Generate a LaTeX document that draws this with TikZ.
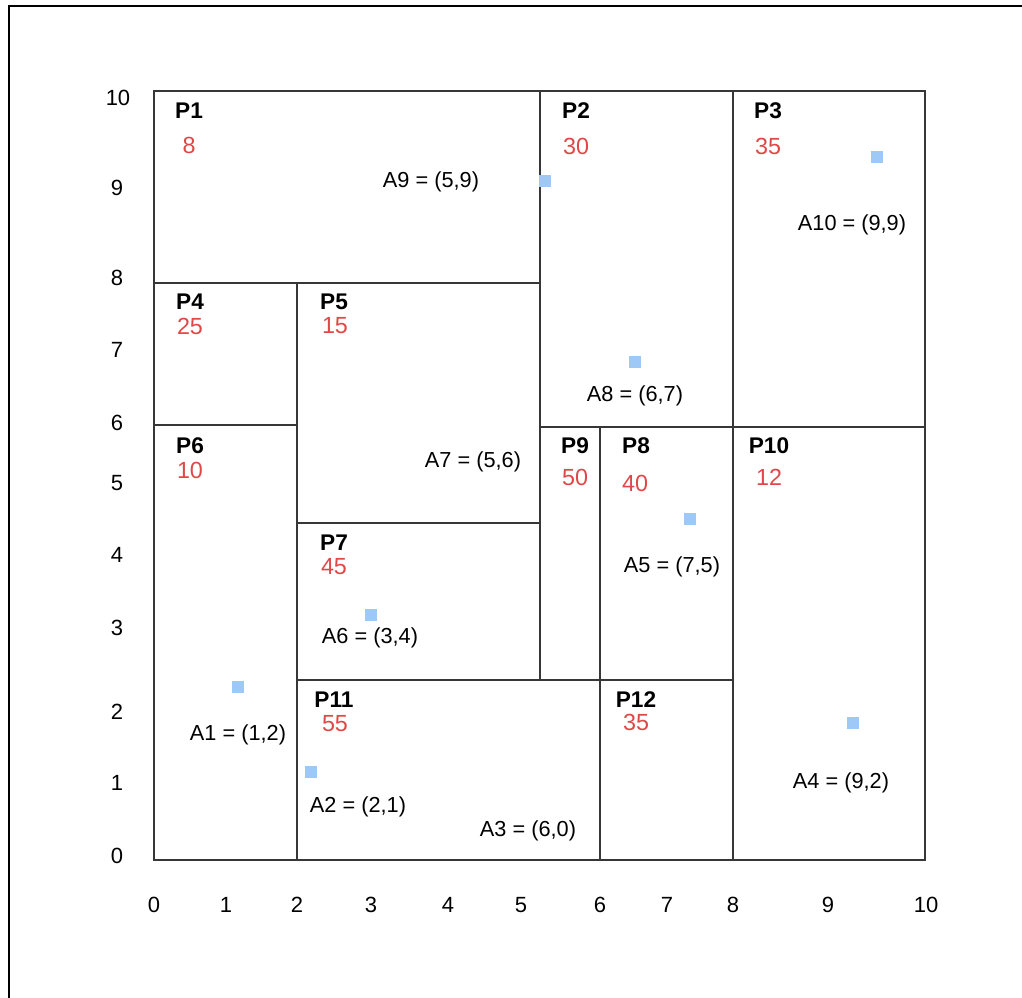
\documentclass[tikz,border=0pt]{standalone}
\usepackage{fontspec}
\setmainfont{Liberation Sans}
\definecolor{redval}{RGB}{224,72,72}
\definecolor{bluesite}{RGB}{158,200,245}
\definecolor{gridline}{RGB}{55,55,55}
\begin{document}
\begin{tikzpicture}[x=0.75pt,y=-0.75pt,
  gridl/.style={draw=gridline,line width=0.9pt},
  plabel/.style={font=\fontsize{17}{20}\selectfont\bfseries, inner sep=0},
  pval/.style={font=\fontsize{17.5}{20}\selectfont, text=redval, inner sep=0},
  alabel/.style={font=\fontsize{16.3}{18}\selectfont, inner sep=0},
  axlabel/.style={font=\fontsize{16.5}{20}\selectfont, inner sep=0},
  site/.style={fill=bluesite, minimum size=9pt, inner sep=0, draw=none}]
\useasboundingbox (0,0) rectangle (1022,998);
\fill[white] (0,0) rectangle (1022,998);
\draw[line width=2pt] (9,998) -- (9,6) -- (1022,6);

% partition
\draw[gridl] (154,91) rectangle (925,860);
\draw[gridl] (540,91) -- (540,680);
\draw[gridl] (733,91) -- (733,860);
\draw[gridl] (154,283) -- (540,283);
\draw[gridl] (297,283) -- (297,860);
\draw[gridl] (154,425) -- (297,425);
\draw[gridl] (540,427) -- (925,427);
\draw[gridl] (600,427) -- (600,860);
\draw[gridl] (297,523) -- (540,523);
\draw[gridl] (297,680) -- (733,680);

% y axis labels
\node[axlabel] (y10) at (118,98) {10};
\node[axlabel] (y9) at (117,188) {9};
\node[axlabel] (y8) at (117,278) {8};
\node[axlabel] (y7) at (117,350) {7};
\node[axlabel] (y6) at (117,423) {6};
\node[axlabel] (y5) at (117,483) {5};
\node[axlabel] (y4) at (117,555) {4};
\node[axlabel] (y3) at (117,628) {3};
\node[axlabel] (y2) at (117,712) {2};
\node[axlabel] (y1) at (117,783) {1};
\node[axlabel] (y0) at (117,856) {0};

% x axis labels
\node[axlabel] (x0) at (154,905) {0};
\node[axlabel] (x1) at (226,905) {1};
\node[axlabel] (x2) at (297,905) {2};
\node[axlabel] (x3) at (371,905) {3};
\node[axlabel] (x4) at (448,905) {4};
\node[axlabel] (x5) at (521,905) {5};
\node[axlabel] (x6) at (600,905) {6};
\node[axlabel] (x7) at (667,905) {7};
\node[axlabel] (x8) at (733,905) {8};
\node[axlabel] (x9) at (828,905) {9};
\node[axlabel] (x10) at (926,905) {10};

% partition names and values
\node[plabel] (p1) at (189,111) {P1};
\node[pval] (v1) at (189,145) {8};
\node[plabel] (p2) at (576,111) {P2};
\node[pval] (v2) at (576,146) {30};
\node[plabel] (p3) at (768,111) {P3};
\node[pval] (v3) at (768,146) {35};
\node[plabel] (p4) at (190,302) {P4};
\node[pval] (v4) at (190,326) {25};
\node[plabel] (p5) at (334,302) {P5};
\node[pval] (v5) at (335,326) {15};
\node[plabel] (p6) at (190,446) {P6};
\node[pval] (v6) at (190,470) {10};
\node[plabel] (p7) at (334,543) {P7};
\node[pval] (v7) at (334,567) {45};
\node[plabel] (p8) at (636,446) {P8};
\node[pval] (v8) at (635,483) {40};
\node[plabel] (p9) at (575,446) {P9};
\node[pval] (v9) at (575,477) {50};
\node[plabel] (p10) at (769,446) {P10};
\node[pval] (v10) at (769,477) {12};
\node[plabel] (p11) at (334,700) {P11};
\node[pval] (v11) at (335,724) {55};
\node[plabel] (p12) at (636,700) {P12};
\node[pval] (v12) at (636,722) {35};

% sites
\node[site] (s9) at (545,181) {};
\node[site] (s10) at (877,157) {};
\node[site] (s8) at (635,362) {};
\node[site] (s5) at (690,519) {};
\node[site] (s6) at (371,615) {};
\node[site] (s1) at (238,687) {};
\node[site] (s2) at (311,772) {};
\node[site] (s4) at (853,723) {};

% site labels
\node[alabel] (a9) at (431,182) {A9 = (5,9)};
\node[alabel] (a10) at (852,225) {A10 = (9,9)};
\node[alabel] (a8) at (635,396) {A8 = (6,7)};
\node[alabel] (a7) at (473,462) {A7 = (5,6)};
\node[alabel] (a5) at (672,567) {A5 = (7,5)};
\node[alabel] (a6) at (370,638) {A6 = (3,4)};
\node[alabel] (a1) at (238,735) {A1 = (1,2)};
\node[alabel] (a2) at (358,807) {A2 = (2,1)};
\node[alabel] (a3) at (528,831) {A3 = (6,0)};
\node[alabel] (a4) at (841,783) {A4 = (9,2)};
\end{tikzpicture}
\end{document}
